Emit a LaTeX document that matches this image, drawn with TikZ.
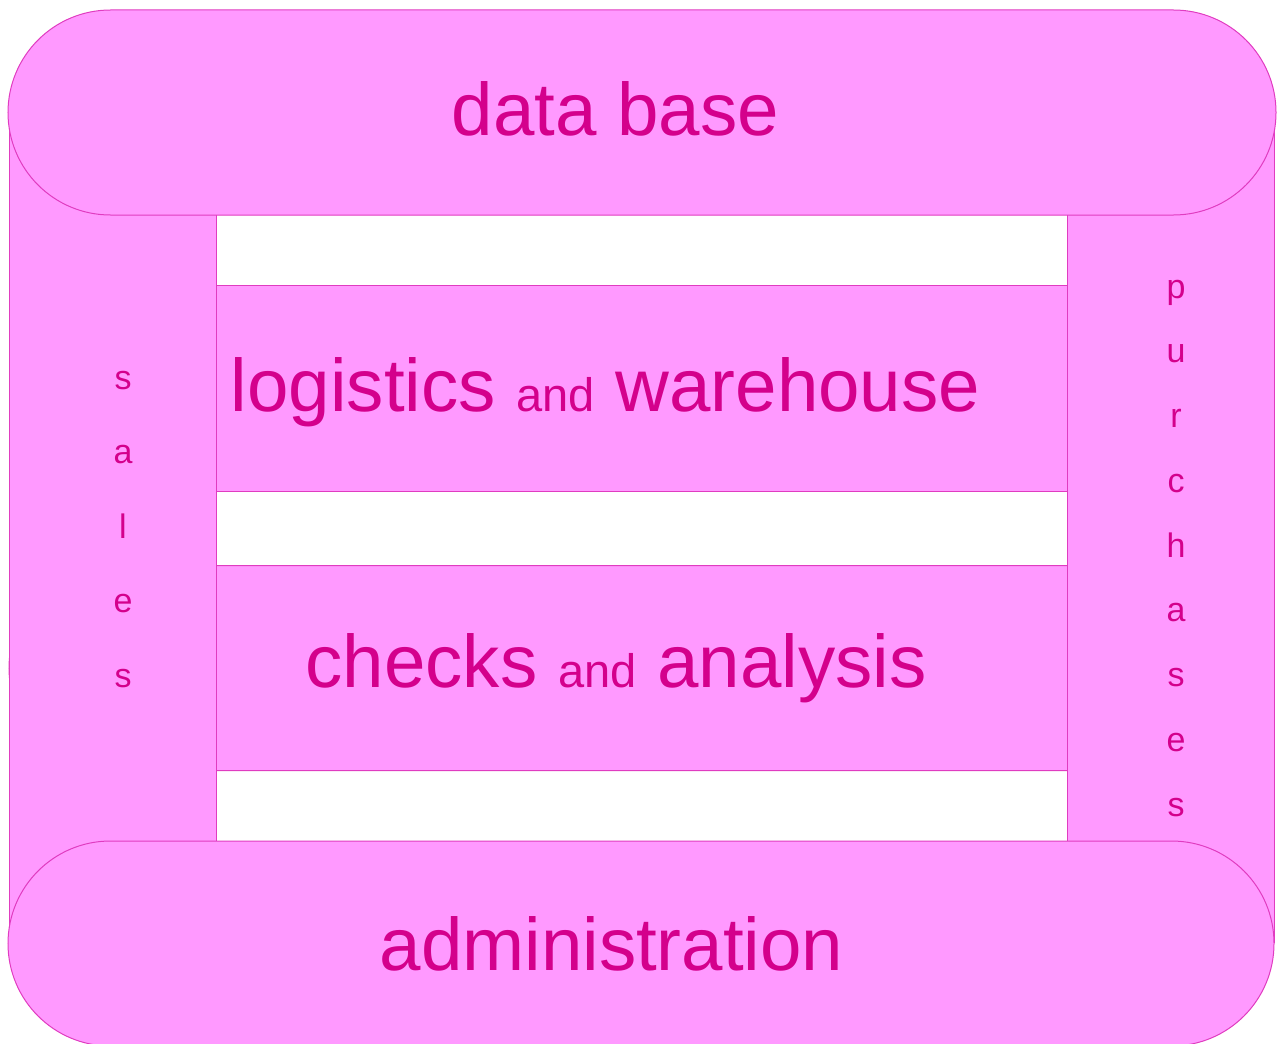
\documentclass[tikz,border=0pt]{standalone}
\usepackage{fontspec}
\setmainfont{Liberation Sans}
\usetikzlibrary{shapes.misc}
\definecolor{boxfill}{HTML}{FF99FF}
\definecolor{boxline}{HTML}{E03CC0}
\definecolor{boxtext}{HTML}{D4008C}
\newcommand{\bigtxt}{\fontsize{74.5}{80}\selectfont}
\newcommand{\andtxt}{\fontsize{47}{50}\selectfont}
\newcommand{\coltxt}{\fontsize{34}{40}\selectfont}
\begin{document}
\begin{tikzpicture}[x=1pt,y=-1pt,
        every node/.style={inner sep=0pt,outer sep=0pt},
        area/.style={draw=boxline,fill=boxfill,line width=1pt},
        stadium/.style={area,rounded rectangle,minimum width=1268pt,minimum height=205pt},
        block/.style={area,rectangle},
        label/.style={text=boxtext,anchor=base}]
        \useasboundingbox (0,0) rectangle (1281,1043);
        % rows behind the columns
        \node[stadium,minimum width=1265pt] (checksbg) at (641.5,668) {};
        \node[block,minimum width=852pt,minimum height=206pt] (logistics) at (642,388) {};
        % side columns
        \node[block,minimum width=207pt,minimum height=830pt] (sales) at (112.5,527) {};
        \node[block,minimum width=207pt,minimum height=830pt] (purchases) at (1171,527) {};
        % top and bottom
        \node[stadium] (database) at (642,112.5) {};
        \node[stadium,minimum width=1266pt] (admin) at (641,943.5) {};
        % texts
        \node[label] (databasetxt) at (615.5,136) {\bigtxt data base};
        \node[label] (logisticstxt) at (605.5,411) {\bigtxt logistics {\andtxt and} warehouse};
        \node[label] (checkstxt) at (616,687) {\bigtxt checks {\andtxt and} analysis};
        \node[label] (admintxt) at (611.5,970) {\bigtxt administration};
        \foreach \c [count=\i from 0] in {s,a,l,e,s}
            \node[label] (sales\i) at (123,{389+74.5*\i}) {\coltxt \c};
        \foreach \c [count=\i from 0] in {p,u,r,c,h,a,s,e,s}
            \node[label] (purchases\i) at (1176,{298+64.75*\i}) {\coltxt \c};
\end{tikzpicture}
\end{document}
